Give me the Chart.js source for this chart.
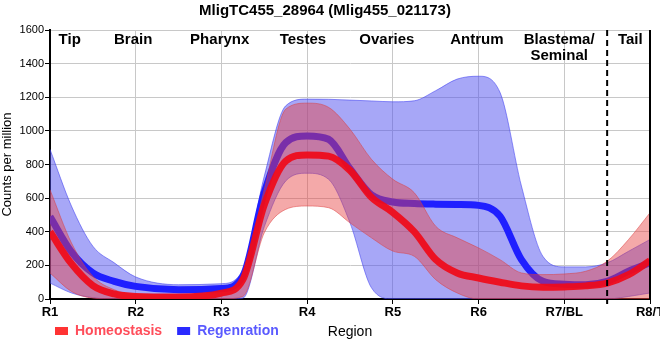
<!DOCTYPE html>
<html>
<head>
<meta charset="utf-8">
<script src="https://cdn.jsdelivr.net/npm/chart.js@4.4.1/dist/chart.umd.min.js"></script>
<style>
  body { margin: 0; background: #fff; }
</style>
</head>
<body>
<canvas id="regionPlot" width="660" height="360"></canvas>
<script>
// positions along the body, R1 = 1 ... R8/T = 8
const xPos = [1, 1.25, 1.5, 1.75, 2, 2.5, 3, 3.25, 3.5, 3.75, 4, 4.25, 4.5, 4.75, 5, 5.25, 5.5, 5.75, 6, 6.25, 6.5, 6.75, 7, 7.25, 7.5, 7.75, 8];
const tickLabels = ['R1', 'R2', 'R3', 'R4', 'R5', 'R6', 'R7/BL', 'R8/T'];
const regionNames = [['Tip'], ['Brain'], ['Pharynx'], ['Testes'], ['Ovaries'], ['Antrum'], ['Blastema/', 'Seminal'], ['Tail']];
const regionAt = [1.23, 1.97, 2.98, 3.95, 4.93, 5.98, 6.94, 7.77];
const splitAt = 7.5;

// Homeostasis (counts per million)
const homeoMean  = [400, 210, 80, 30, 15, 12, 35, 115, 560, 820, 857, 850, 765, 605, 515, 400, 235, 155, 125, 100, 78, 70, 72, 78, 95, 145, 228];
const homeoUpper = [650, 334, 135, 55, 26, 25, 45, 145, 652, 1129, 1165, 1140, 1010, 831, 712, 632, 433, 364, 304, 234, 155, 145, 149, 165, 224, 354, 513];
const homeoLower = [155, 45, 5, 0, 0, 0, 0, 15, 394, 533, 553, 543, 453, 364, 285, 254, 115, 36, 0, 0, 0, 0, 0, 0, 0, 0, 0];

// Regeneration
const regenMean  = [490, 280, 155, 105, 75, 55, 62, 135, 634, 930, 970, 950, 775, 620, 577, 568, 564, 562, 557, 493, 234, 105, 88, 85, 105, 165, 215];
const regenUpper = [890, 553, 314, 215, 131, 85, 91, 175, 731, 1149, 1189, 1188, 1183, 1178, 1173, 1179, 1239, 1308, 1325, 1229, 672, 254, 191, 191, 215, 284, 354];
const regenLower = [95, 36, 8, 0, 0, 0, 0, 5, 430, 702, 748, 712, 453, 67, 0, 0, 0, 0, 0, 0, 0, 0, 0, 0, 0, 15, 36];

const narrow = '"Liberation Sans Narrow", "Liberation Sans", sans-serif';

function pts(vals) {
    return vals.map((v, i) => ({ x: xPos[i], y: v }));
}

function band(vals, fillColor, edgeColor, fill) {
    return {
        data: pts(vals),
        borderColor: edgeColor,
        backgroundColor: fillColor,
        borderWidth: 1,
        pointRadius: 0,
        cubicInterpolationMode: 'monotone',
        fill: fill
    };
}

const decorations = {
    id: 'decorations',
    afterLayout(chart) {
        // legend shares its row with the "Region" caption, a bit in from the left
        const lg = chart.legend;
        const h = lg.height;
        lg.left = 40;
        lg.top = chart.chartArea.bottom + 10;
        lg.bottom = lg.top + h;
    },
    afterDatasetsDraw(chart) {
        const ctx = chart.ctx;
        const area = chart.chartArea;
        const xs = chart.scales.x;
        ctx.save();
        // right frame line
        ctx.strokeStyle = '#000';
        ctx.lineWidth = 2;
        ctx.beginPath();
        ctx.moveTo(area.right, area.top);
        ctx.lineTo(area.right, area.bottom);
        ctx.stroke();
        // dashed split between Blastema/Seminal and Tail
        const sx = xs.getPixelForValue(splitAt);
        ctx.setLineDash([6, 4]);
        ctx.beginPath();
        ctx.moveTo(sx, area.top);
        ctx.lineTo(sx, area.bottom + 5);
        ctx.stroke();
        ctx.setLineDash([]);
        // region names along the top
        ctx.fillStyle = '#000';
        ctx.font = 'bold 15px ' + narrow;
        ctx.textAlign = 'center';
        ctx.textBaseline = 'middle';
        regionNames.forEach((lines, i) => {
            const px = xs.getPixelForValue(regionAt[i]);
            lines.forEach((t, j) => ctx.fillText(t, px, area.top + 10 + j * 16));
        });
        ctx.restore();
    },
    afterDraw(chart) {
        const ctx = chart.ctx;
        const area = chart.chartArea;
        ctx.save();
        ctx.fillStyle = '#000';
        ctx.font = '14px ' + narrow;
        ctx.textAlign = 'center';
        ctx.textBaseline = 'middle';
        ctx.fillText('Region', (area.left + area.right) / 2, area.bottom + 33);
        ctx.restore();
    }
};

const ctx = document.getElementById('regionPlot').getContext('2d');
new Chart(ctx, {
    type: 'line',
    data: {
        datasets: [
            { label: 'Homeostasis', data: pts(homeoMean), borderColor: 'rgba(240, 10, 25, 0.92)', backgroundColor: '#ff3333',
              borderWidth: 7, pointRadius: 0, cubicInterpolationMode: 'monotone', fill: false },
            band(homeoUpper, 'rgba(231, 64, 64, 0.45)', 'rgba(220, 60, 60, 0.5)', '+1'),
            band(homeoLower, 'rgba(231, 64, 64, 0.45)', 'rgba(220, 60, 60, 0.5)', false),
            { label: 'Regenration', data: pts(regenMean), borderColor: '#1f1fff', backgroundColor: '#2a2aff',
              borderWidth: 7, pointRadius: 0, cubicInterpolationMode: 'monotone', fill: false },
            band(regenUpper, 'rgba(80, 80, 240, 0.5)', 'rgba(60, 60, 240, 0.55)', '+1'),
            band(regenLower, 'rgba(80, 80, 240, 0.5)', 'rgba(60, 60, 240, 0.55)', false)
        ]
    },
    options: {
        responsive: false,
        animation: false,
        layout: { padding: { left: 0, right: 10, top: 0, bottom: 0 } },
        scales: {
            x: {
                type: 'linear',
                min: 1,
                max: 8,
                afterFit(scale) {
                    scale.height = 22;
                    scale.paddingLeft = 0;
                    scale.paddingRight = 0;
                },
                ticks: {
                    stepSize: 1,
                    autoSkip: false,
                    maxRotation: 0,
                    padding: 1,
                    color: '#000',
                    font: { family: narrow, size: 13, weight: 'bold' },
                    callback: (v) => tickLabels[v - 1]
                },
                grid: { color: '#c8c8c8', tickColor: '#000', tickLength: 5 },
                border: { color: '#000', width: 2 }
            },
            y: {
                min: 0,
                max: 1600,
                afterFit(scale) { scale.width = 50; },
                ticks: {
                    stepSize: 200,
                    padding: 1,
                    color: '#000',
                    font: { family: '"Liberation Sans", sans-serif', size: 11 },
                    callback: (v) => String(v)
                },
                grid: { color: '#c8c8c8', tickColor: '#000', tickLength: 5 },
                border: { color: '#000', width: 2 },
                title: {
                    display: true,
                    text: 'Counts per million',
                    color: '#000',
                    padding: 0,
                    font: { family: '"Liberation Sans", sans-serif', size: 13 }
                }
            }
        },
        plugins: {
            title: {
                display: true,
                text: 'MligTC455_28964 (Mlig455_021173)',
                color: '#000',
                font: { family: narrow, size: 15, weight: 'bold' },
                padding: { top: 2, bottom: 10 }
            },
            legend: {
                position: 'bottom',
                align: 'start',
                labels: {
                    boxWidth: 13,
                    boxHeight: 8,
                    padding: 15,
                    font: { family: narrow, size: 14, weight: 'bold' },
                    generateLabels: () => [
                        { text: 'Homeostasis', fillStyle: '#ff3333', strokeStyle: '#ff3333', lineWidth: 0, fontColor: '#ff4d5a', datasetIndex: 0, hidden: false },
                        { text: 'Regenration', fillStyle: '#2a2aff', strokeStyle: '#2a2aff', lineWidth: 0, fontColor: '#5a5aff', datasetIndex: 3, hidden: false }
                    ]
                }
            },
            tooltip: { enabled: false }
        }
    },
    plugins: [decorations]
});
</script>
</body>
</html>
